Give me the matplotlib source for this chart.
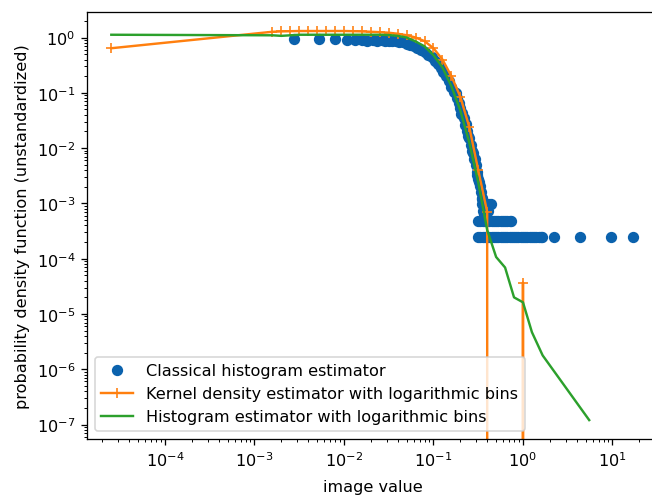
import numpy as np
import matplotlib
matplotlib.use("Agg")
import matplotlib.pyplot as plt

# ---- data (stored as log10 values) ----
# Classical histogram estimator (blue dots)
blue_log_x = [
    -2.56, -2.28, -2.10, -1.97, -1.88, -1.80, -1.74, -1.68, -1.63, -1.58,
    -1.54, -1.50, -1.46, -1.42, -1.38, -1.34, -1.30, -1.26, -1.22, -1.18,
    -1.14, -1.10, -1.06, -1.02, -0.98, -0.95, -0.92, -0.89, -0.86, -0.83,
    -0.80, -0.77, -0.74, -0.72, -0.70, -0.68, -0.66, -0.64, -0.62, -0.60,
    -0.58, -0.56, -0.545, -0.53, -0.515, -0.50, -0.485, -0.47, -0.455, -0.44,
    -0.75, -0.69, -0.65, -0.61, -0.57, -0.54, -0.51, -0.49, -0.46, -0.43,
    # 4-count level
    -0.46, -0.44, -0.42, -0.40, -0.38, -0.36,
    # 3-count level
    -0.45, -0.42, -0.39,
    # 2-count level
    -0.50, -0.475, -0.45, -0.425, -0.40, -0.375, -0.35, -0.325, -0.30, -0.275,
    -0.25, -0.225, -0.20, -0.175, -0.15, -0.13,
    # 1-count level
    -0.50, -0.475, -0.45, -0.425, -0.40, -0.375, -0.35, -0.325, -0.30, -0.275,
    -0.25, -0.225, -0.20, -0.175, -0.15, -0.125, -0.10, -0.075, -0.05, -0.025,
    0.00, 0.025, 0.05, 0.075, 0.10, 0.125, 0.15, 0.175, 0.20, 0.21,
    0.345, 0.635, 0.98, 1.23,
]
blue_log_y = [
    -0.02, -0.02, -0.03, -0.04, -0.04, -0.05, -0.06, -0.05, -0.06, -0.05,
    -0.06, -0.07, -0.06, -0.07, -0.08, -0.09, -0.11, -0.13, -0.16, -0.19,
    -0.22, -0.26, -0.31, -0.36, -0.42, -0.48, -0.55, -0.62, -0.70, -0.79,
    -0.89, -0.99, -1.10, -1.18, -1.27, -1.36, -1.46, -1.57, -1.69, -1.81,
    -1.94, -2.08, -2.19, -2.31, -2.43, -2.56, -2.68, -2.80, -2.92, -3.05,
    -1.00, -1.38, -1.58, -1.79, -2.05, -2.20, -2.48, -2.62, -2.90, -3.20,
    -3.005, -3.005, -3.005, -3.005, -3.005, -3.005,
    -3.13, -3.13, -3.13,
    -3.313, -3.313, -3.313, -3.313, -3.313, -3.313, -3.313, -3.313, -3.313, -3.313,
    -3.313, -3.313, -3.313, -3.313, -3.313, -3.313,
    -3.607, -3.607, -3.607, -3.607, -3.607, -3.607, -3.607, -3.607, -3.607, -3.607,
    -3.607, -3.607, -3.607, -3.607, -3.607, -3.607, -3.607, -3.607, -3.607, -3.607,
    -3.607, -3.607, -3.607, -3.607, -3.607, -3.607, -3.607, -3.607, -3.607, -3.607,
    -3.607, -3.607, -3.607, -3.607,
]

# Kernel density estimator with logarithmic bins (orange, '+')
# zero density is stored as 0.0 (drawn off the bottom of the log axis)
kde_log_x = [
    -4.60, -2.80, -2.70, -2.60, -2.50, -2.40, -2.30, -2.20, -2.10, -2.00,
    -1.90, -1.80, -1.70, -1.60, -1.50, -1.40, -1.30, -1.20, -1.10, -1.00,
    -0.90, -0.80, -0.70, -0.60, -0.50, -0.40, -0.30, -0.20, -0.10, 0.00,
    0.10, 0.20, 0.30, 0.40, 0.50, 0.60, 0.70,
]
kde_y = [
    0.64, 1.27, 1.29, 1.30, 1.31, 1.31, 1.31, 1.31, 1.31, 1.31,
    1.30, 1.29, 1.27, 1.25, 1.22, 1.17, 1.10, 1.00, 0.86, 0.64,
    0.40, 0.20, 0.085, 0.024, 0.0040, 0.00070, 0.0, 0.0, 0.0, 3.7e-5,
    0.0, 0.0, 0.0, 0.0, 0.0, 0.0, 0.0,
]

# Histogram estimator with logarithmic bins (green)
hist_log_x = [
    -4.60, -2.80, -2.70, -2.60, -2.50, -2.40, -2.30, -2.20, -2.10, -2.00,
    -1.90, -1.80, -1.70, -1.60, -1.50, -1.40, -1.30, -1.20, -1.10, -1.00,
    -0.90, -0.80, -0.70, -0.60, -0.50, -0.40, -0.30, -0.20, -0.10, 0.00,
    0.10, 0.22, 0.74,
]
hist_log_y = [
    0.05, 0.04, 0.03, 0.04, 0.05, 0.05, 0.05, 0.05, 0.05, 0.05,
    0.05, 0.05, 0.05, 0.05, 0.045, 0.03, 0.00, -0.07, -0.16, -0.32,
    -0.54, -0.88, -1.32, -1.90, -2.62, -3.48, -3.97, -4.16, -4.70, -4.79,
    -5.33, -5.75, -6.92,
]

# major tick positions shown on the axes
x_ticks = [1e-4, 1e-3, 1e-2, 1e-1, 1e0, 1e1]
y_ticks = [1e-7, 1e-6, 1e-5, 1e-4, 1e-3, 1e-2, 1e-1, 1e0]

labels = ["Classical histogram estimator",
          "Kernel density estimator with logarithmic bins",
          "Histogram estimator with logarithmic bins"]

blue_x = 10.0 ** np.array(blue_log_x)
blue_y = 10.0 ** np.array(blue_log_y)
kde_x = 10.0 ** np.array(kde_log_x)
hist_x = 10.0 ** np.array(hist_log_x)
hist_y = 10.0 ** np.array(hist_log_y)

DPI = 116
fig = plt.figure(figsize=(652 / DPI, 496 / DPI), dpi=DPI)
ax = fig.add_axes([86.7 / 652, 56 / 496, (659 - 86.7) / 652, (440 - 13.3) / 496])

ax.plot(blue_x, blue_y, "o", color="#0b62ad", label=labels[0])
ax.plot(kde_x, kde_y, "+-", color="#ff7f0e", label=labels[1])
ax.plot(hist_x, hist_y, "-", color="#2ca02c", label=labels[2])

ax.set_xscale("log")
ax.set_yscale("log")
ax.set_xticks(x_ticks)
ax.set_yticks(y_ticks)
ax.set_xlim(10 ** -4.875, 10 ** 1.52)
ax.set_ylim(10 ** -7.262, 10 ** 0.456)
ax.set_xlabel("image value", labelpad=6.5)
ax.set_ylabel("probability density function (unstandardized)")
ax.legend(loc="lower left")

fig.savefig("out.png", dpi=DPI)
